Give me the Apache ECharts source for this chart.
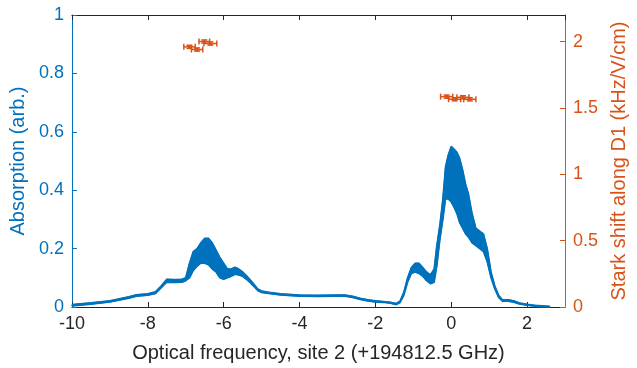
<!DOCTYPE html>
<html><head><meta charset="utf-8">
<script src="https://cdn.jsdelivr.net/npm/echarts@6/dist/echarts.min.js"></script>
<style>html,body{margin:0;padding:0;background:#fff}#c{width:637px;height:368px}</style>
</head><body><div id="c"></div>
<script>
// Absorption spectrum (blue): frequency and noise envelope (lower / upper)
const freq = [-10, -9.5, -9, -8.5, -8.3, -8, -7.8, -7.65, -7.5, -7.3, -7.1, -7.0, -6.9, -6.8, -6.7, -6.6, -6.5, -6.4, -6.3, -6.2, -6.1, -6.0, -5.9, -5.8, -5.7, -5.6, -5.5, -5.4, -5.3, -5.2, -5.1, -5.0, -4.8, -4.5, -4.0, -3.5, -3.0, -2.8, -2.6, -2.4, -2.2, -2.0, -1.8, -1.6, -1.45, -1.35, -1.25, -1.15, -1.05, -0.95, -0.85, -0.75, -0.65, -0.55, -0.45, -0.38, -0.3, -0.22, -0.15, -0.08, 0, 0.08, 0.15, 0.22, 0.3, 0.38, 0.45, 0.55, 0.65, 0.75, 0.85, 0.95, 1.05, 1.15, 1.25, 1.35, 1.5, 1.65, 1.8, 2.0, 2.2, 2.4, 2.6];
const absLow = [0.004, 0.010, 0.017, 0.030, 0.037, 0.040, 0.046, 0.065, 0.085, 0.084, 0.085, 0.090, 0.100, 0.125, 0.140, 0.150, 0.150, 0.145, 0.130, 0.120, 0.100, 0.095, 0.100, 0.105, 0.112, 0.110, 0.105, 0.095, 0.083, 0.070, 0.056, 0.050, 0.046, 0.041, 0.037, 0.036, 0.037, 0.037, 0.033, 0.026, 0.021, 0.017, 0.016, 0.013, 0.008, 0.015, 0.040, 0.085, 0.115, 0.120, 0.115, 0.105, 0.090, 0.080, 0.085, 0.140, 0.230, 0.300, 0.370, 0.370, 0.360, 0.340, 0.320, 0.290, 0.270, 0.250, 0.240, 0.220, 0.210, 0.200, 0.190, 0.155, 0.100, 0.062, 0.033, 0.020, 0.020, 0.016, 0.010, 0.006, 0.003, 0.001, 0.000];
const absHigh = [0.008, 0.014, 0.021, 0.035, 0.042, 0.045, 0.052, 0.072, 0.095, 0.094, 0.095, 0.100, 0.150, 0.190, 0.200, 0.220, 0.235, 0.235, 0.220, 0.195, 0.170, 0.150, 0.130, 0.130, 0.136, 0.130, 0.120, 0.108, 0.093, 0.078, 0.062, 0.055, 0.050, 0.045, 0.041, 0.040, 0.041, 0.041, 0.037, 0.030, 0.025, 0.021, 0.019, 0.016, 0.012, 0.020, 0.050, 0.100, 0.135, 0.150, 0.150, 0.135, 0.120, 0.110, 0.130, 0.210, 0.280, 0.370, 0.480, 0.520, 0.550, 0.540, 0.530, 0.510, 0.470, 0.420, 0.390, 0.320, 0.270, 0.260, 0.250, 0.200, 0.120, 0.072, 0.040, 0.025, 0.025, 0.021, 0.014, 0.009, 0.006, 0.004, 0.002];

// Stark shift points (orange) with error bars
const starkFreq = [-6.90, -6.70, -6.51, -6.35, -0.12, 0.09, 0.31, 0.49];
const starkShift = [1.96, 1.94, 2.00, 1.985, 1.585, 1.565, 1.58, 1.565];
const starkFreqErr = [0.15, 0.15, 0.14, 0.17, 0.16, 0.16, 0.16, 0.16];
const starkShiftErr = [0.012, 0.012, 0.012, 0.012, 0.012, 0.012, 0.012, 0.012];

const BLUE = '#0072BD', ORANGE = '#D95319', DARK = '#262626';
const FONT = 'Liberation Sans, Arial, Helvetica, sans-serif';

const lowData = freq.map((f, i) => [f, absLow[i]]);
const highData = freq.map((f, i) => [f, absHigh[i]]);
const bandData = freq.map((f, i) => [f, absLow[i], absHigh[i]]);
const starkData = starkFreq.map((f, i) => [f, starkShift[i], starkFreqErr[i], starkShiftErr[i]]);

const chart = echarts.init(document.getElementById('c'), null, {renderer: 'canvas'});
chart.setOption({
  animation: false,
  backgroundColor: '#fff',
  textStyle: {fontFamily: FONT},
  grid: {left: 71, right: 64, top: 15, bottom: 61, containLabel: false},
  xAxis: [{
    type: 'value', min: -10, max: 3, interval: 2, position: 'bottom',
    name: 'Optical frequency, site 2 (+194812.5 GHz)', nameLocation: 'middle', nameGap: 36,
    nameTextStyle: {fontSize: 20, color: DARK, fontFamily: FONT},
    axisLine: {onZero: false, lineStyle: {color: DARK, width: 1}},
    axisTick: {inside: true, length: 5, lineStyle: {color: DARK}},
    axisLabel: {fontSize: 18, color: DARK, margin: 8, showMaxLabel: false, fontFamily: FONT},
    splitLine: {show: false}
  }, {
    type: 'value', min: -10, max: 3, interval: 2, position: 'top',
    axisLine: {onZero: false, lineStyle: {color: DARK, width: 1}},
    axisTick: {inside: true, length: 5, lineStyle: {color: DARK}},
    axisLabel: {show: false}, splitLine: {show: false}
  }],
  yAxis: [{
    type: 'value', min: 0, max: 1, interval: 0.2, position: 'left',
    name: 'Absorption (arb.)', nameLocation: 'middle', nameGap: 43,
    nameTextStyle: {fontSize: 20, color: BLUE, fontFamily: FONT},
    axisLine: {show: true, onZero: false, lineStyle: {color: BLUE, width: 1}},
    axisTick: {show: true, inside: true, length: 5, lineStyle: {color: BLUE}},
    axisLabel: {fontSize: 18, color: BLUE, margin: 8, fontFamily: FONT},
    splitLine: {show: false}
  }, {
    type: 'value', min: 0, max: 2.2, interval: 0.5, position: 'right',
    name: 'Stark shift along D1 (kHz/V/cm)', nameLocation: 'middle', nameGap: 44,
    nameRotate: 90,
    nameTextStyle: {fontSize: 20, color: ORANGE, fontFamily: FONT},
    axisLine: {show: true, onZero: false, lineStyle: {color: ORANGE, width: 1}},
    axisTick: {show: true, inside: true, length: 5, lineStyle: {color: ORANGE}},
    axisLabel: {fontSize: 18, color: ORANGE, margin: 8, showMaxLabel: false, fontFamily: FONT},
    splitLine: {show: false}
  }],
  series: [{
    // filled noise band between lower and upper envelope (one polygon)
    type: 'custom', xAxisIndex: 0, yAxisIndex: 0, data: bandData, z: 2,
    encode: {x: 0, y: [1, 2]},
    renderItem: function (params, api) {
      if (params.dataIndex !== 0) return null;
      const pts = [];
      for (let i = 0; i < freq.length; i++) pts.push(api.coord([freq[i], absHigh[i]]));
      for (let i = freq.length - 1; i >= 0; i--) pts.push(api.coord([freq[i], absLow[i]]));
      return {type: 'polygon', shape: {points: pts},
        style: {fill: BLUE, stroke: BLUE, lineWidth: 1}};
    }
  }, {
    type: 'line', data: lowData, symbol: 'none', xAxisIndex: 0, yAxisIndex: 0,
    lineStyle: {color: BLUE, width: 1.6}, z: 3
  }, {
    type: 'line', data: highData, symbol: 'none', xAxisIndex: 0, yAxisIndex: 0,
    lineStyle: {color: BLUE, width: 1.6}, z: 3
  }, {
    type: 'custom', xAxisIndex: 0, yAxisIndex: 1, data: starkData, z: 5,
    encode: {x: 0, y: 1},
    renderItem: function (params, api) {
      const x = api.value(0), y = api.value(1), ex = api.value(2), ey = api.value(3);
      const c = api.coord([x, y]);
      const l = api.coord([x - ex, y]);
      const r = api.coord([x + ex, y]);
      const t = api.coord([x, y + ey]);
      const b = api.coord([x, y - ey]);
      const cap = 3;
      const st = {stroke: ORANGE, lineWidth: 1.5};
      return {type: 'group', children: [
        {type: 'line', shape: {x1: l[0], y1: l[1], x2: r[0], y2: r[1]}, style: st},
        {type: 'line', shape: {x1: l[0], y1: l[1] - cap, x2: l[0], y2: l[1] + cap}, style: st},
        {type: 'line', shape: {x1: r[0], y1: r[1] - cap, x2: r[0], y2: r[1] + cap}, style: st},
        {type: 'line', shape: {x1: t[0], y1: t[1], x2: b[0], y2: b[1]}, style: st},
        {type: 'line', shape: {x1: t[0] - cap, y1: t[1], x2: t[0] + cap, y2: t[1]}, style: st},
        {type: 'line', shape: {x1: b[0] - cap, y1: b[1], x2: b[0] + cap, y2: b[1]}, style: st},
        {type: 'circle', shape: {cx: c[0], cy: c[1], r: 1.8}, style: {fill: ORANGE}}
      ]};
    }
  }]
});
</script>
</body></html>
